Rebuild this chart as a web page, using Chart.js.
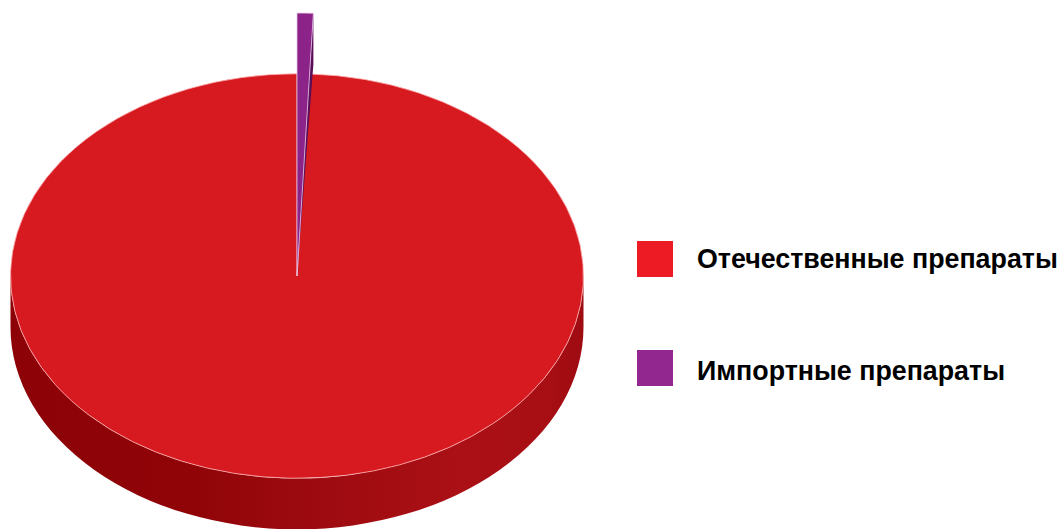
<!DOCTYPE html>
<html>
<head>
<meta charset="utf-8">
<script src="https://cdn.jsdelivr.net/npm/chart.js@4.4.1/dist/chart.umd.min.js"></script>
<style>
    html, body { margin: 0; padding: 0; background: #fff; width: 1059px; height: 529px; overflow: hidden; }
    body { position: relative; font-family: "Liberation Sans", Arial, Helvetica, sans-serif; }
    #pieBox { position: absolute; left: 10px; top: -11px; width: 574px; height: 574px; }
    #legend { position: absolute; left: 637px; top: 241px; }
    .item { position: absolute; left: 0; display: flex; align-items: center; white-space: nowrap; height: 36px; }
    .swatch { width: 36px; height: 36px; margin-right: 24px; flex: none; }
    .label { font-weight: bold; font-size: 26.8px; color: #000; position: relative; }
</style>
</head>
<body>
<div id="pieBox"><canvas id="pie"></canvas></div>
<div id="legend"></div>
<script>
// Data
const labels = ['Отечественные препараты', 'Импортные препараты'];
const shares = [99.3, 0.7];

// Styles
const topColors = ['#D71920', '#8C2388'];
const legendColors = ['#ED1C24', '#92278F'];
const edgeColors = ['rgba(255,185,185,0.9)', 'rgba(230,200,235,0.9)'];
const liftFactor = [1, 1.3];      // the import slice sticks out of the disc
const TILT = 0.706;               // vertical squash of the disc
const DEPTH = 51;                 // thickness of the disc, px

function sideGradient(ctx, x, r) {
    const g = ctx.createLinearGradient(x - r, 0, x + r, 0);
    g.addColorStop(0, '#8C0206');
    g.addColorStop(0.32, '#900408');
    g.addColorStop(0.5, '#9B0A0F');
    g.addColorStop(0.78, '#AA1015');
    g.addColorStop(0.93, '#A80F14');
    g.addColorStop(1, '#9E0B11');
    return g;
}

// Draws the disc as a tilted 3D pie from the arc elements Chart.js laid out
const pie3d = {
    id: 'pie3d',
    beforeDatasetsDraw(chart) {
        const ctx = chart.ctx;
        const meta = chart.getDatasetMeta(0);
        const base = meta.controller.outerRadius;
        const { x, y } = meta.data[0];

        meta.data.forEach((arc, i) => {
            arc.outerRadius = base * liftFactor[i];
        });

        // front walls
        const fill = sideGradient(ctx, x, base);
        meta.data.forEach((arc, i) => {
            if (liftFactor[i] > 1) {
                return;
            }
            const r = arc.outerRadius;
            [-2 * Math.PI, 0, 2 * Math.PI].forEach((off) => {
                const lo = Math.max(arc.startAngle, off);
                const hi = Math.min(arc.endAngle, Math.PI + off);
                if (hi <= lo) {
                    return;
                }
                ctx.beginPath();
                ctx.ellipse(x, y, r, r * TILT, 0, lo, hi);
                ctx.ellipse(x, y + DEPTH, r, r * TILT, 0, hi, lo, true);
                ctx.closePath();
                ctx.fillStyle = fill;
                ctx.fill();
            });
        });

        // top faces
        meta.data.forEach((arc, i) => {
            ctx.save();
            if (liftFactor[i] > 1) {
                const r = arc.outerRadius;
                const ex = x + r * Math.cos(arc.endAngle);
                const ey = y + r * TILT * Math.sin(arc.endAngle);
                ctx.beginPath();
                ctx.moveTo(x, y);
                ctx.lineTo(ex, ey);
                ctx.lineTo(ex, ey + DEPTH);
                ctx.closePath();
                ctx.fillStyle = '#5A0D58';
                ctx.fill();
            }
            ctx.translate(x, y);
            ctx.scale(1, TILT);
            ctx.translate(-x, -y);
            arc.draw(ctx);
            ctx.restore();
        });
        return false;
    },
};

const chart = new Chart(document.getElementById('pie'), {
    type: 'pie',
    data: {
        labels: labels,
        datasets: [{
            data: shares,
            backgroundColor: topColors,
            borderColor: edgeColors,
            borderWidth: 1,
            clip: false,
        }],
    },
    options: {
        responsive: true,
        maintainAspectRatio: false,
        animation: false,
        events: [],
        rotation: shares[1] / shares.reduce((a, b) => a + b, 0) * 360,
        layout: { padding: 0 },
        plugins: {
            legend: { display: false },
            tooltip: { enabled: false },
        },
    },
    plugins: [pie3d],
});

// Legend
const legendEl = document.getElementById('legend');
const legendTops = [0, 109];
const labelShift = [0, 3];
labels.forEach((text, i) => {
    const item = document.createElement('div');
    item.className = 'item';
    item.style.top = legendTops[i] + 'px';
    const sw = document.createElement('span');
    sw.className = 'swatch';
    sw.style.background = legendColors[i];
    const lb = document.createElement('span');
    lb.className = 'label';
    lb.style.top = labelShift[i] + 'px';
    lb.textContent = text;
    item.appendChild(sw);
    item.appendChild(lb);
    legendEl.appendChild(item);
});
</script>
</body>
</html>
